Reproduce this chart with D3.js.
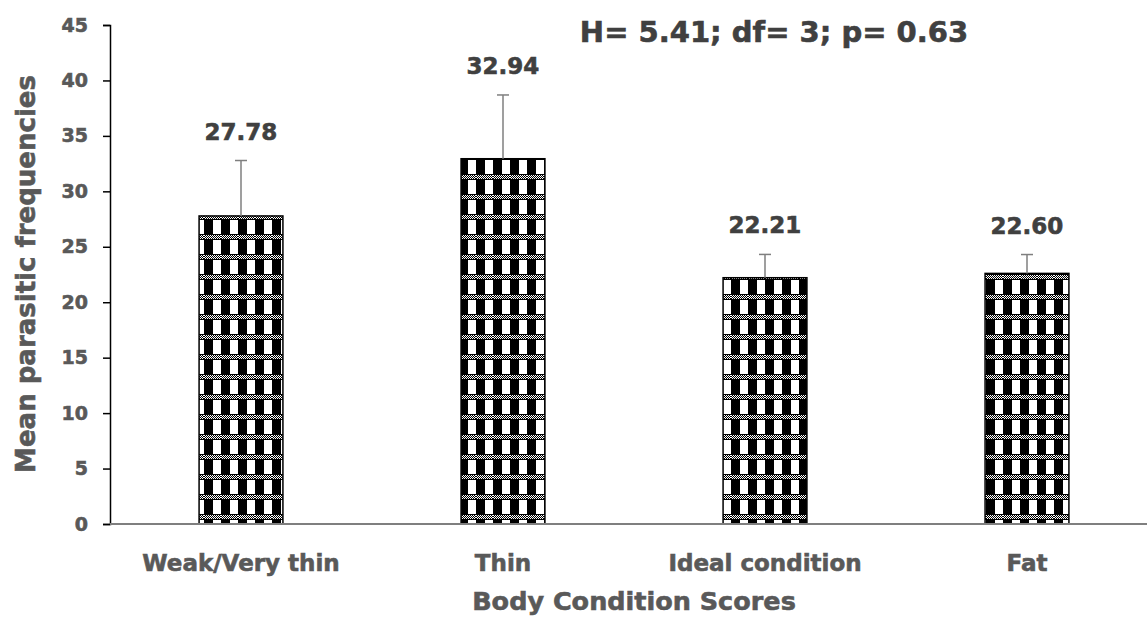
<!DOCTYPE html>
<html>
<head>
<meta charset="utf-8">
<script src="https://cdn.jsdelivr.net/npm/d3@7"></script>
<style>
  body { margin: 0; background: #fff; }
  text { font-family: "DejaVu Sans", Verdana, sans-serif; font-weight: bold; }
</style>
</head>
<body>
<svg id="chart"></svg>
<script>
// chart data
const categories = ["Weak/Very thin", "Thin", "Ideal condition", "Fat"];
const means = [27.78, 32.94, 22.21, 22.60];
const errors = [5.0, 5.75, 2.1, 1.7];
const yTicks = [0, 5, 10, 15, 20, 25, 30, 35, 40, 45];
const statText = "H= 5.41; df= 3; p= 0.63";

const width = 1147, height = 618;
const margin = {left: 110, top: 25, bottom: 94};
const plotRight = 1158;

const svg = d3.select("#chart")
    .attr("width", width)
    .attr("height", height);

// checker pattern like the excel fill
const defs = svg.append("defs");
const pat = defs.append("pattern")
    .attr("id", "check")
    .attr("patternUnits", "userSpaceOnUse")
    .attr("width", 17)
    .attr("height", 20);
pat.append("rect").attr("width", 17).attr("height", 20).attr("fill", "#fff");
pat.append("rect").attr("x", 0).attr("y", 0).attr("width", 9).attr("height", 14).attr("fill", "#000");
pat.append("rect").attr("x", 0).attr("y", 14).attr("width", 17).attr("height", 1).attr("fill", "#000");
pat.append("rect").attr("x", 0).attr("y", 19).attr("width", 17).attr("height", 1).attr("fill", "#000");
for (let yy = 15; yy < 19; yy++) {
    for (let xx = 0; xx < 17; xx++) {
        if ((xx + yy) % 2 === 0) {
            pat.append("rect").attr("x", xx).attr("y", yy).attr("width", 1).attr("height", 1).attr("fill", "#000");
        }
    }
}

// heavier look for all the bold labels
function heavy(sel, color) {
    sel.attr("fill", color)
        .attr("stroke", color)
        .attr("stroke-width", 0.6);
}

// scales
const x = d3.scaleBand()
    .domain(categories)
    .range([margin.left, plotRight])
    .paddingInner(0.68)
    .paddingOuter(0.34);

const y = d3.scaleLinear()
    .domain([0, 45])
    .range([height - margin.bottom, margin.top]);

// y axis
const yAxis = svg.append("g")
    .attr("transform", `translate(${margin.left},0)`)
    .call(d3.axisLeft(y).tickValues(yTicks).tickSize(7).tickPadding(15));
yAxis.select(".domain").attr("stroke", "#000").attr("stroke-width", 1.5);
yAxis.selectAll(".tick line").attr("stroke", "#000").attr("stroke-width", 1.5);
yAxis.selectAll(".tick text")
    .call(heavy, "#595959")
    .style("font-size", "19px");

// bars
svg.selectAll(".bar")
    .data(means)
    .join("rect")
    .attr("class", "bar")
    .attr("x", (d, i) => x(categories[i]))
    .attr("y", d => y(d))
    .attr("width", x.bandwidth())
    .attr("height", d => y(0) - y(d))
    .attr("fill", "url(#check)")
    .attr("stroke", "#000")
    .attr("stroke-width", 1.5);

// x axis line
svg.append("line")
    .attr("x1", margin.left)
    .attr("x2", width)
    .attr("y1", y(0))
    .attr("y2", y(0))
    .attr("stroke", "#7f7f7f")
    .attr("stroke-width", 2);

// error bars (upper only)
const cx = i => x(categories[i]) + x.bandwidth() / 2;
const errG = svg.append("g").attr("stroke", "#7f7f7f").attr("stroke-width", 1.5);
means.forEach((m, i) => {
    errG.append("line")
        .attr("x1", cx(i)).attr("x2", cx(i))
        .attr("y1", y(m)).attr("y2", y(m + errors[i]));
    errG.append("line")
        .attr("x1", cx(i) - 6).attr("x2", cx(i) + 6)
        .attr("y1", y(m + errors[i])).attr("y2", y(m + errors[i]));
});

// value labels
svg.selectAll(".val")
    .data(means)
    .join("text")
    .attr("class", "val")
    .attr("x", (d, i) => cx(i))
    .attr("y", (d, i) => y(d + errors[i]) - 21)
    .attr("text-anchor", "middle")
    .call(heavy, "#404040")
    .style("font-size", "23px")
    .text(d => d.toFixed(2));

// category labels
svg.selectAll(".cat")
    .data(categories)
    .join("text")
    .attr("class", "cat")
    .attr("x", (d, i) => cx(i))
    .attr("y", 571)
    .attr("text-anchor", "middle")
    .call(heavy, "#595959")
    .style("font-size", "23px")
    .text(d => d);

// axis titles
svg.append("text")
    .attr("x", (margin.left + plotRight) / 2)
    .attr("y", 610)
    .attr("text-anchor", "middle")
    .call(heavy, "#595959")
    .style("font-size", "25.5px")
    .text("Body Condition Scores");

svg.append("text")
    .attr("transform", `translate(35, 274) rotate(-90)`)
    .attr("text-anchor", "middle")
    .call(heavy, "#595959")
    .style("font-size", "26px")
    .text("Mean parasitic frequencies");

// stats annotation
svg.append("text")
    .attr("x", 774)
    .attr("y", 42)
    .attr("text-anchor", "middle")
    .call(heavy, "#404040")
    .style("font-size", "29px")
    .text(statText);
</script>
</body>
</html>
